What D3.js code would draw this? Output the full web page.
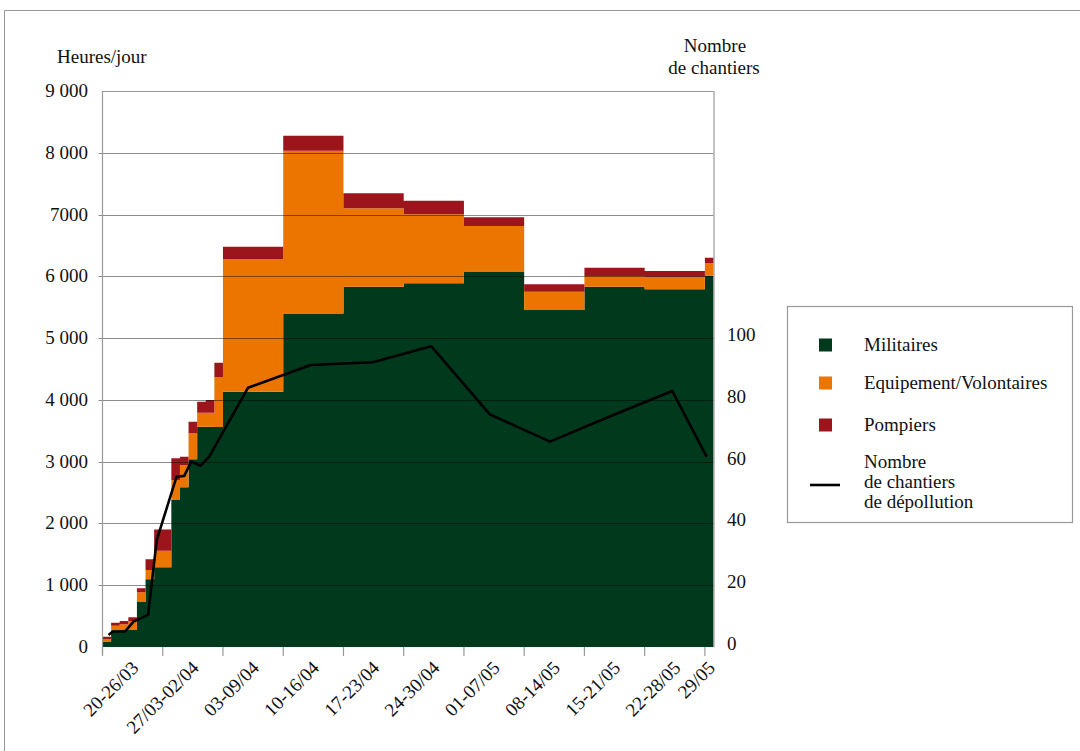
<!DOCTYPE html>
<html>
<head>
<meta charset="utf-8">
<script src="https://cdn.jsdelivr.net/npm/d3@7"></script>
<style>
  html, body { margin: 0; padding: 0; background: #fff; }
</style>
</head>
<body>
<svg id="chart" width="1080" height="751"></svg>
<script>
// ---- Data ----
// Start day of each step (day 0 = 20/03); daily values first two weeks, then weekly
const stepStartDays = [0,1,2,3,4,5,6,7,8,9,10,11,12,13,14,21,28,35,42,49,56,63,70];
const stepEndDay = 71;
const militaires = [90,270,275,275,730,1096,1290,1290,2380,2585,3040,3567,3567,3560,4130,5400,5830,5890,6080,5455,5830,5790,6010];
const equipement = [40,75,92,146,155,150,270,270,323,361,419,226,226,810,2150,2633,1271,1114,735,296,175,205,200];
const pompiers   = [35,48,54,59,65,174,340,340,351,134,188,177,207,230,200,244,243,221,140,120,135,91,92];

// Nombre de chantiers de dépollution (right axis)
const chantierDays   = [0.7,1.2,2.6,3.6,5.3,6.3,8.6,9.5,10.3,11.4,12.4,16.9,24.2,31.4,38.2,45,52,59,66.2,70.2];
const chantierValues = [3.9,5,5,8.2,10.4,34.6,55.1,55.4,60,58.7,61.6,83.9,91.3,92.2,97.4,75.3,66.5,74.7,82.9,61.6];

// Axis ticks
const xTickDays   = [0,7,14,21,28,35,42,49,56,63,70];
const xTickSpans  = [7,7,7,7,7,7,7,7,7,7,1];
const xTickLabels = ["20-26/03","27/03-02/04","03-09/04","10-16/04","17-23/04","24-30/04","01-07/05","08-14/05","15-21/05","22-28/05","29/05"];
const yLeftTicks  = [0,1000,2000,3000,4000,5000,6000,7000,8000,9000];
const yLeftLabels = ["0","1 000","2 000","3 000","4 000","5 000","6 000","7000","8 000","9 000"];
const yRightTicks = [0,20,40,60,80,100];

const seriesNames  = ["Militaires","Equipement/Volontaires","Pompiers"];
const seriesColors = ["#01391c","#ec7500","#9c151d"];

// ---- Layout ----
const FONT = "'Liberation Serif', 'DejaVu Serif', 'Noto Serif', 'Times New Roman', Times, serif";
const FS = 19;
const svg = d3.select("#chart").attr("font-family", FONT);
const plot = {left: 102.5, right: 713.5, top: 91, bottom: 647};

const x = d3.scaleLinear().domain([0, stepEndDay]).range([plot.left, plot.right]);
const y = d3.scaleLinear().domain([0, 9000]).range([plot.bottom, plot.top]);
const yR = d3.scaleLinear().domain([0, 180]).range([plot.bottom, plot.top]);

// outer frame
svg.append("line").attr("x1",4.5).attr("x2",1080).attr("y1",10.5).attr("y2",10.5).attr("stroke","#999");
svg.append("line").attr("x1",4.5).attr("x2",4.5).attr("y1",10.5).attr("y2",751).attr("stroke","#999");

// ---- stacked step areas ----
const rows = stepStartDays.map((d,i) => ({day: d, Militaires: militaires[i], "Equipement/Volontaires": equipement[i], Pompiers: pompiers[i]}));
rows.push(Object.assign({}, rows[rows.length-1], {day: stepEndDay}));
const stack = d3.stack().keys(seriesNames)(rows);
const area = d3.area()
  .x(d => x(d.data.day))
  .y0(d => y(d[0]))
  .y1(d => y(d[1]))
  .curve(d3.curveStepAfter);
svg.append("g").selectAll("path").data(stack).join("path")
  .attr("d", area)
  .attr("fill", (d,i) => seriesColors[i]);

// gridlines
svg.append("g").selectAll("line").data(yLeftTicks.filter(v => v > 0 && v < 9000)).join("line")
  .attr("x1", plot.left - 4).attr("x2", plot.right)
  .attr("y1", d => Math.round(y(d)) + 0.5).attr("y2", d => Math.round(y(d)) + 0.5)
  .attr("stroke", "#000").attr("stroke-opacity", 0.45).attr("stroke-width", 1.2);

// frame of plot
svg.append("line").attr("x1", plot.left).attr("x2", plot.right).attr("y1", plot.top+0.5).attr("y2", plot.top+0.5).attr("stroke","#999").attr("stroke-width",1.2);
svg.append("line").attr("x1", plot.left).attr("x2", plot.left).attr("y1", plot.top).attr("y2", plot.bottom+8).attr("stroke","#999").attr("stroke-width",1.2);
svg.append("line").attr("x1", plot.right+0.5).attr("x2", plot.right+0.5).attr("y1", plot.top).attr("y2", plot.bottom).attr("stroke","#999").attr("stroke-width",1.2);

// x ticks
svg.append("g").selectAll("line").data(xTickDays).join("line")
  .attr("x1", d => x(d)).attr("x2", d => x(d))
  .attr("y1", plot.bottom).attr("y2", plot.bottom + 9)
  .attr("stroke", "#999").attr("stroke-width", 1.2);

// chantiers line
const line = d3.line().x((d,i) => x(chantierDays[i])).y(d => yR(d));
svg.append("path").datum(chantierValues)
  .attr("d", line).attr("fill","none").attr("stroke","#000").attr("stroke-width",2.6).attr("stroke-linejoin","round");

// left axis labels
svg.append("g").selectAll("text").data(yLeftTicks).join("text")
  .attr("x", 88).attr("y", d => y(d) + 6)
  .attr("text-anchor","end")
  .attr("font-size", FS).attr("fill","#111")
  .text((d,i) => yLeftLabels[i]);

// right axis labels
svg.append("g").selectAll("text").data(yRightTicks).join("text")
  .attr("x", 727).attr("y", d => yR(d) + 3)
  .attr("text-anchor","start")
  .attr("font-size", FS).attr("fill","#111")
  .text(d => d);

// x axis labels
svg.append("g").selectAll("text").data(xTickDays).join("text")
  .attr("transform", (d,i) => `translate(${x(d + xTickSpans[i]/2) + 7},669) rotate(-45)`)
  .attr("text-anchor","end")
  .attr("font-size", FS).attr("fill","#111")
  .text((d,i) => xTickLabels[i]);

// axis titles
svg.append("text").attr("x",57).attr("y",63).attr("font-size",FS).attr("fill","#111").text("Heures/jour");
svg.append("text").attr("x",715).attr("y",52).attr("text-anchor","middle").attr("font-size",FS).attr("fill","#111").text("Nombre");
svg.append("text").attr("x",714).attr("y",74).attr("text-anchor","middle").attr("font-size",FS).attr("fill","#111").text("de chantiers");

// ---- legend ----
const lg = svg.append("g");
lg.append("rect").attr("x",787.5).attr("y",306.5).attr("width",285).attr("height",216)
  .attr("fill","#fff").attr("stroke","#999").attr("stroke-width",1.2);
const legendY = [345, 383, 425];
seriesNames.forEach((name,i) => {
  lg.append("rect").attr("x",819).attr("y",legendY[i]-6.5).attr("width",13).attr("height",13).attr("fill",seriesColors[i]);
  lg.append("text").attr("x",864).attr("y",legendY[i]+6).attr("font-size",FS).attr("fill","#111").text(name);
});
lg.append("line").attr("x1",810).attr("x2",840).attr("y1",485).attr("y2",485).attr("stroke","#000").attr("stroke-width",2.6);
["Nombre","de chantiers","de dépollution"].forEach((t,i) => {
  lg.append("text").attr("x",864).attr("y",468 + i*20).attr("font-size",FS).attr("fill","#111").text(t);
});
</script>
</body>
</html>
